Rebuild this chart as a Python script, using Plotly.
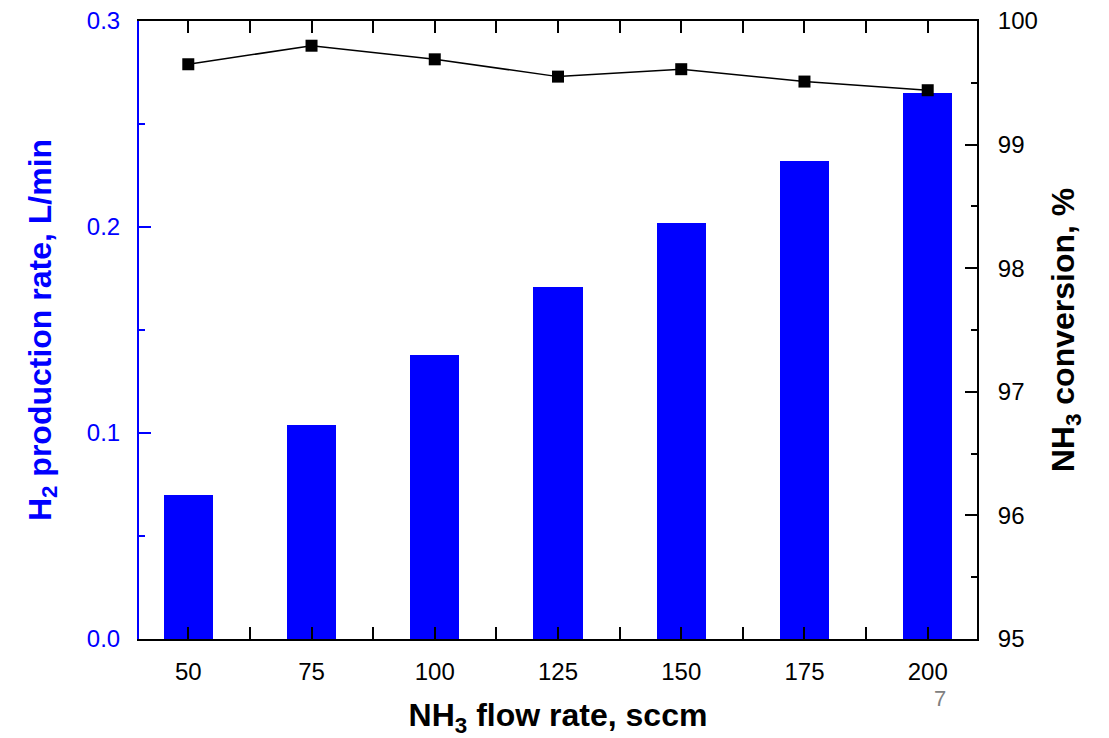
import plotly.graph_objects as go

flow_rate = [50, 75, 100, 125, 150, 175, 200]
h2_rate = [0.070, 0.104, 0.138, 0.171, 0.202, 0.232, 0.265]
nh3_conv = [99.65, 99.80, 99.69, 99.55, 99.61, 99.51, 99.44]

x_ticks = [50, 75, 100, 125, 150, 175, 200]
y1_ticks = [0.0, 0.1, 0.2, 0.3]
y1_labels = ["0.0", "0.1", "0.2", "0.3"]
y2_ticks = [95, 96, 97, 98, 99, 100]

FONT = "Liberation Sans, Arial, sans-serif"
BLUE = "#0000FF"

fig = go.Figure()
fig.add_trace(go.Bar(x=flow_rate, y=h2_rate, width=10, marker=dict(color=BLUE, line=dict(width=0)),
                     yaxis="y", showlegend=False))
fig.add_trace(go.Scatter(x=flow_rate, y=nh3_conv, mode="lines+markers",
                         line=dict(color="black", width=1.5),
                         marker=dict(symbol="square", size=12, color="black"),
                         yaxis="y2", showlegend=False))

fig.update_layout(
    width=1109, height=738,
    margin=dict(l=139, r=132, t=21, b=99, autoexpand=False),
    paper_bgcolor="white", plot_bgcolor="white",
    font=dict(family=FONT, size=24, color="black"),
    xaxis=dict(range=[40, 210], tickvals=x_ticks, ticks="inside", ticklen=12, tickwidth=2,
               tickcolor="black", showline=True, linecolor="black", linewidth=2, mirror="allticks",
               showgrid=False, zeroline=False, ticklabelstandoff=10, automargin=False,
               minor=dict(tickvals=[62.5, 87.5, 112.5, 137.5, 162.5, 187.5], ticks="inside",
                          ticklen=6, tickwidth=2, tickcolor="black", showgrid=False),
               title=dict(text="<b>NH<sub>3</sub> flow rate, sccm</b>", font=dict(size=32), standoff=21)),
    yaxis=dict(range=[0, 0.3], tickvals=y1_ticks, ticktext=y1_labels, ticks="inside", ticklen=12,
               tickwidth=2, tickcolor=BLUE, showline=True, linecolor=BLUE, linewidth=2,
               showgrid=False, zeroline=False, tickfont=dict(color=BLUE), ticklabelstandoff=12,
               automargin=False,
               minor=dict(tickvals=[0.05, 0.15, 0.25], ticks="inside", ticklen=6, tickwidth=2,
                          tickcolor=BLUE, showgrid=False),
               title=dict(text="<b>H<sub>2</sub> production rate, L/min</b>", font=dict(size=32, color=BLUE),
                          standoff=26)),
    yaxis2=dict(range=[95, 100], tickvals=y2_ticks, overlaying="y", side="right", ticks="inside",
                ticklen=12, tickwidth=2, tickcolor="black", showline=True, linecolor="black", linewidth=2,
                showgrid=False, zeroline=False, ticklabelstandoff=14, automargin=False,
                minor=dict(tickvals=[95.5, 96.5, 97.5, 98.5, 99.5], ticks="inside", ticklen=6,
                           tickwidth=2, tickcolor="black", showgrid=False),
                title=dict(text="<b>NH<sub>3</sub> conversion, %</b>", font=dict(size=32), standoff=15)),
    bargap=0,
)

fig.add_annotation(text="7", xref="paper", yref="paper",
                   x=(940 - 139) / (1109 - 139 - 132), y=(738 - 99 - 698) / (738 - 21 - 99),
                   xanchor="center", yanchor="middle", showarrow=False,
                   font=dict(size=22, color="#808080"))

fig.write_html("out.html")
